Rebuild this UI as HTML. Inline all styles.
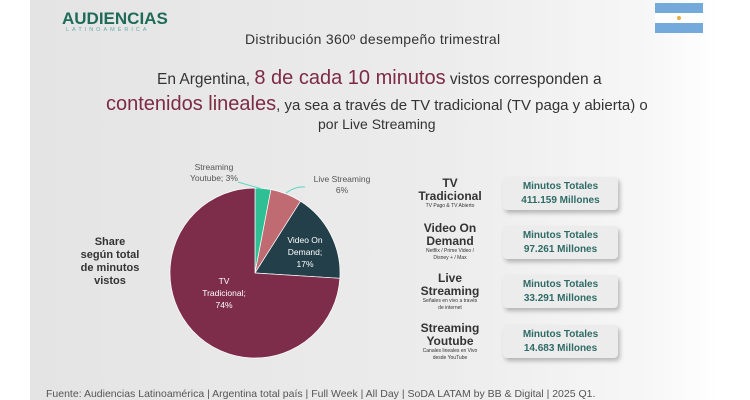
<!DOCTYPE html>
<html><head><meta charset="utf-8"><style>
body{margin:0;width:750px;height:400px;overflow:hidden;background:#fff;font-family:"Liberation Sans",sans-serif}
#slide{position:absolute;left:30px;top:0;width:690px;height:400px;background:linear-gradient(90deg,#e4e4e4 0%,#ececec 60%,#f7f7f7 90%,#fff 100%)}
.t{position:absolute;white-space:nowrap}
.box{position:absolute;left:503px;width:115px;height:33px;background:#ececec;border-radius:4px;box-shadow:2px 3px 4px rgba(0,0,0,.25);text-align:center;color:#2e6b66;font-weight:bold;font-size:10px;line-height:14px;padding-top:3px;box-sizing:border-box}
.lab{position:absolute;left:395px;width:110px;text-align:center;color:#333;font-weight:bold;font-size:12px;line-height:13px}
.lab small{display:block;font-size:5px;font-weight:normal;line-height:7px}
</style></head><body>
<div id="slide"></div>
<div class="t" style="left:62px;top:9px;color:#1f6b5a;font-weight:bold;font-size:17px">AUDIENCIAS</div>
<div class="t" style="left:66px;top:27px;color:#6aa;font-size:5.5px;letter-spacing:3px">LATINOAMÉRICA</div>
<svg style="position:absolute;left:655px;top:3px" width="48" height="30"><rect width="48" height="10" fill="#74a9dc"/><rect y="10" width="48" height="10" fill="#fff"/><rect y="20" width="48" height="10" fill="#74a9dc"/><circle cx="24" cy="15" r="2" fill="#e0b040"/></svg>
<div class="t" style="left:245px;top:31px;font-size:14px;color:#333;letter-spacing:0.3px">Distribución 360º desempeño trimestral</div>
<div class="t" style="left:157px;top:67px;font-size:15.5px;color:#333">En Argentina, <span style="color:#7d2a45;font-size:20px">8 de cada 10 minutos</span> vistos corresponden a</div>
<div class="t" style="left:106px;top:93px;font-size:15px;color:#333"><span style="color:#7d2a45;font-size:20px">contenidos lineales</span>, ya sea a través de TV tradicional (TV paga y abierta) o</div>
<div class="t" style="left:318px;top:116px;font-size:14px;color:#333">por Live Streaming</div>
<div class="t" style="left:72px;top:236px;width:76px;text-align:center;font-weight:bold;font-size:11px;line-height:13px;color:#333;white-space:normal">Share<br>según total<br>de minutos<br>vistos</div>
<svg id="pie" style="position:absolute;left:0;top:0" width="750" height="400"></svg>
<div class="lab" style="top:177px">TV<br>Tradicional<small>TV Pago &amp; TV Abierto</small></div>
<div class="lab" style="top:222px">Video On<br>Demand<small>Netflix / Prime Video /<br>Disney + / Max</small></div>
<div class="lab" style="top:272px">Live<br>Streaming<small>Señales en vivo a través<br>de internet</small></div>
<div class="lab" style="top:322px">Streaming<br>Youtube<small>Canales lineales en Vivo<br>desde YouTube</small></div>
<div class="box" style="top:177px">Minutos Totales<br>411.159 Millones</div>
<div class="box" style="top:226px">Minutos Totales<br>97.261 Millones</div>
<div class="box" style="top:275px">Minutos Totales<br>33.291 Millones</div>
<div class="box" style="top:325px">Minutos Totales<br>14.683 Millones</div>
<div class="t" style="left:46px;top:388px;font-size:10.5px;color:#555">Fuente: Audiencias Latinoamérica | Argentina total país | Full Week | All Day | SoDA LATAM by BB &amp; Digital | 2025 Q1.</div>
<script>
const categories=["Streaming Youtube","Live Streaming","Video On Demand","TV Tradicional"];
const shares=[3,6,17,74];
const colors=["#2fbf95","#c06a72","#223f4a","#7d2d4a"];
const svg=document.getElementById('pie');
const NS="http://www.w3.org/2000/svg";
const cx=255,cy=273,r=85;
const total=shares.reduce((a,b)=>a+b,0);
let a0=0;
function pt(a,rr){const t=a/total*2*Math.PI-Math.PI/2;return [cx+rr*Math.cos(t),cy+rr*Math.sin(t)];}
shares.forEach((v,i)=>{
  const a1=a0+v;const p0=pt(a0,r),p1=pt(a1,r);
  const p=document.createElementNS(NS,'path');
  p.setAttribute('d',`M${cx},${cy}L${p0[0]},${p0[1]}A${r},${r} 0 ${v/total>0.5?1:0} 1 ${p1[0]},${p1[1]}Z`);
  p.setAttribute('fill',colors[i]);p.setAttribute('stroke','#fff');p.setAttribute('stroke-width','0.7');
  
  
  svg.appendChild(p);a0=a1;
});
function txt(x,y,s,fill){const t=document.createElementNS(NS,'text');t.setAttribute('x',x);t.setAttribute('y',y);t.setAttribute('fill',fill);t.setAttribute('font-size','8.5');t.setAttribute('text-anchor','middle');t.setAttribute('font-family','Liberation Sans, sans-serif');t.textContent=s;


svg.appendChild(t);}
txt(214,170,"Streaming","#555");txt(214,181,"Youtube; "+shares[0]+"%","#555");
txt(342,182,"Live Streaming","#555");txt(342,193,shares[1]+"%","#555");
txt(305,243,"Video On","#fff");txt(305,255,"Demand;","#fff");txt(305,267,shares[2]+"%","#fff");
txt(224,284,"TV","#fff");txt(224,296,"Tradicional;","#fff");txt(224,308,shares[3]+"%","#fff");
const l1=document.createElementNS(NS,'path');l1.setAttribute('d','M238,182 L262,189');l1.setAttribute('stroke','#5cd6c0');l1.setAttribute('fill','none');


svg.appendChild(l1);
const l2=document.createElementNS(NS,'path');l2.setAttribute('d','M305,187 Q296,186 286,193');l2.setAttribute('stroke','#5cd6c0');l2.setAttribute('fill','none');


svg.appendChild(l2);
</script>
</body></html>
